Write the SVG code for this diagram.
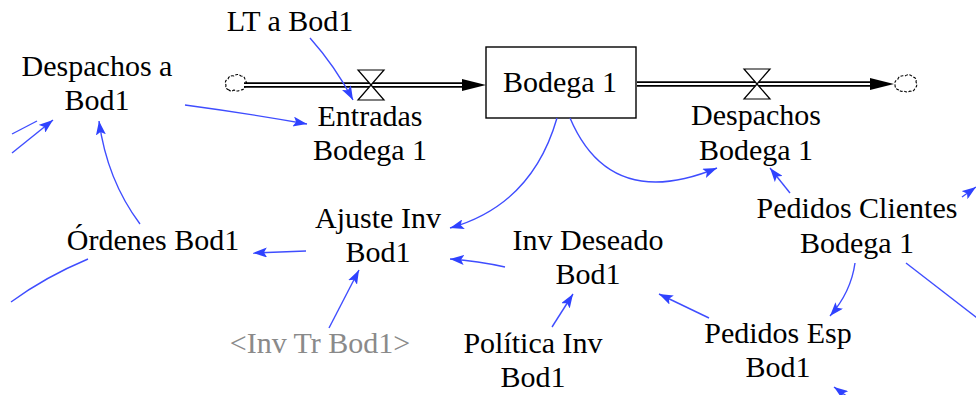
<svg xmlns="http://www.w3.org/2000/svg" width="976" height="395" viewBox="0 0 976 395">
  <defs>
    <style>
      text { font-family: "Liberation Serif", "Times New Roman", serif; font-size: 30px; fill: #000; text-anchor: middle; }
      text.shadow { fill: #8a8a8a; }
      .link { fill: none; stroke: #3f4dff; stroke-width: 1.4; }
      .pipe-out { fill: none; stroke: #000; stroke-width: 5.5; }
      .pipe-in { fill: none; stroke: #fff; stroke-width: 2.2; }
      .valve { fill: #fff; stroke: #000; stroke-width: 1.2; }
      .cloud { fill: #fff; stroke: #000; stroke-width: 1.1; stroke-dasharray: 3 1.5; }
      .stock { fill: #fff; stroke: #000; stroke-width: 1.4; }
    </style>
    <marker id="arrow" viewBox="0 0 14 10" refX="14" refY="5" markerWidth="14" markerHeight="10" markerUnits="userSpaceOnUse" orient="auto">
      <path d="M0,0 L14,5 L0,10 L3,5 Z" fill="#2f42ff"/>
    </marker>
  </defs>

  <rect width="976" height="395" fill="#fff"/>

  <!-- flow pipes -->
  <g id="flow-entradas">
    <path class="cloud" d="M229,90 q-4,-1 -3,-5 q-2,-4 2,-6 q1,-4 6,-3 q3,-3 7,0 q4,0 4,4 q3,3 0,6 q0,4 -5,4 q-3,2 -6,0 q-3,2 -5,0 Z"/>
    <path class="pipe-out" d="M244,85 L464,85"/>
    <path class="pipe-in" d="M244,85 L464,85"/>
    <path d="M462,79 L486,85 L462,91 Z" fill="#000"/>
    <path class="valve" d="M358,70 L384,70 L371,85 Z M371,85 L384,100 L358,100 Z"/>
    <text x="370" y="126">Entradas</text>
    <text x="370" y="160">Bodega 1</text>
  </g>

  <g id="flow-despachos">
    <path class="pipe-out" d="M637,84 L872,84"/>
    <path class="pipe-in" d="M637,84 L872,84"/>
    <path d="M870,78 L894,84 L870,90 Z" fill="#000"/>
    <path class="cloud" d="M899,90 q-4,-1 -4,-5 q-1,-4 3,-6 q1,-4 7,-3 q4,-3 8,1 q4,1 3,5 q2,4 -1,6 q-1,4 -5,3 q-3,2 -6,0 q-3,1 -5,-1 Z"/>
    <path class="valve" d="M744,69 L770,69 L757,84 Z M757,84 L770,99 L744,99 Z"/>
    <text x="756" y="125">Despachos</text>
    <text x="756" y="160">Bodega 1</text>
  </g>

  <g id="stock-bodega1">
    <rect class="stock" x="486" y="47" width="150" height="71"/>
    <text x="560" y="92">Bodega 1</text>
  </g>

  <!-- auxiliaries -->
  <g id="lt-a-bod1"><text x="290" y="31">LT a Bod1</text></g>
  <g id="despachos-a-bod1">
    <text x="97" y="76">Despachos a</text>
    <text x="97" y="110">Bod1</text>
  </g>
  <g id="ordenes-bod1"><text x="153" y="250">Órdenes Bod1</text></g>
  <g id="ajuste-inv-bod1">
    <text x="378" y="228">Ajuste Inv</text>
    <text x="378" y="262">Bod1</text>
  </g>
  <g id="inv-tr-bod1"><text class="shadow" x="320" y="353">&lt;Inv Tr Bod1&gt;</text></g>
  <g id="inv-deseado-bod1">
    <text x="588" y="250">Inv Deseado</text>
    <text x="588" y="284">Bod1</text>
  </g>
  <g id="politica-inv-bod1">
    <text x="533" y="353">Política Inv</text>
    <text x="533" y="387">Bod1</text>
  </g>
  <g id="pedidos-clientes-bodega1">
    <text x="857" y="218">Pedidos Clientes</text>
    <text x="857" y="253">Bodega 1</text>
  </g>
  <g id="pedidos-esp-bod1">
    <text x="778" y="343">Pedidos Esp</text>
    <text x="778" y="377">Bod1</text>
  </g>

  <!-- causal links -->
  <g id="connectors">
    <path class="link" marker-end="url(#arrow)" d="M310,38 Q335,66 353,100"/>
    <path class="link" marker-end="url(#arrow)" d="M185,105 Q245,113 307,124"/>
    <path class="link" marker-end="url(#arrow)" d="M140,224 Q107,180 99,121"/>
    <path class="link" marker-end="url(#arrow)" d="M12,153 L53,120"/>
    <path class="link" d="M12,134 L37,121"/>
    <path class="link" d="M88,259 Q45,277 11,302"/>
    <path class="link" marker-end="url(#arrow)" d="M306,251 Q280,252 253,253"/>
    <path class="link" marker-end="url(#arrow)" d="M557,118 Q532,205 450,228"/>
    <path class="link" marker-end="url(#arrow)" d="M570,118 Q610,212 717,168"/>
    <path class="link" marker-end="url(#arrow)" d="M505,267 Q478,261 450,259"/>
    <path class="link" marker-end="url(#arrow)" d="M329,328 L359,270"/>
    <path class="link" marker-end="url(#arrow)" d="M552,327 L573,294"/>
    <path class="link" marker-end="url(#arrow)" d="M709,318 L659,294"/>
    <path class="link" marker-end="url(#arrow)" d="M790,193 L770,168"/>
    <path class="link" marker-end="url(#arrow)" d="M855,263 Q851,292 830,316"/>
    <path class="link" d="M906,263 L985,324"/>
    <path class="link" marker-end="url(#arrow)" d="M962,197 L976,187"/>
    <path class="link" marker-end="url(#arrow)" d="M852,400 L834,387"/>
  </g>
</svg>
